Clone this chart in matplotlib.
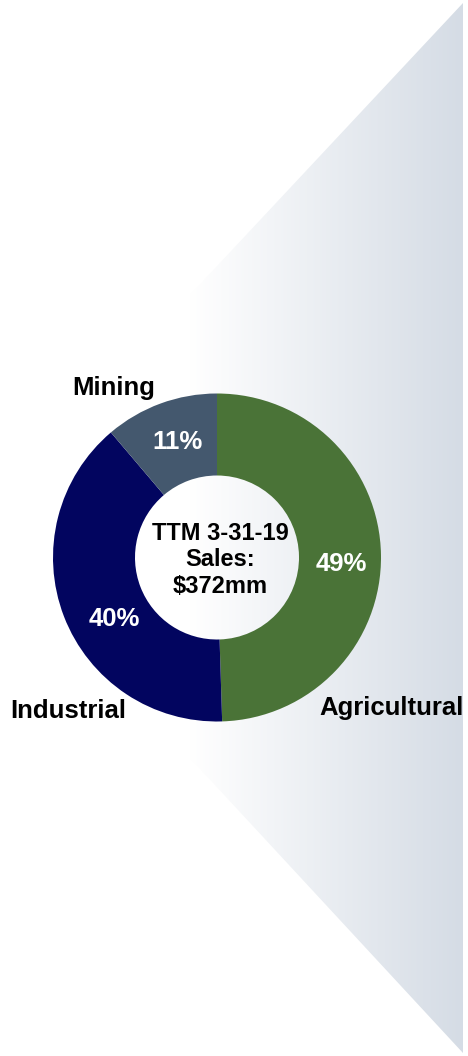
import numpy as np
import matplotlib.pyplot as plt
from matplotlib.path import Path
from matplotlib.patches import PathPatch

plt.rcParams["font.family"] = ["Liberation Sans", "DejaVu Sans"]

segments = ["Agricultural", "Industrial", "Mining"]
# slice sizes as drawn in the picture; printed labels are rounded
shares = [49.5, 39.3, 11.2]
share_labels = ["49%", "40%", "11%"]
colors = ["#4a7337", "#02055f", "#44586e"]
center_text = "TTM 3-31-19\nSales:\n$372mm"

W, H = 468, 1056
fig = plt.figure(figsize=(W / 100, H / 100), dpi=100)
ax = fig.add_axes([0, 0, 1, 1])


def py(y):
    # pixel row (from top) -> data y
    return H - y


# donut
cx, cy, r = 217, py(557.5), 164
ax.pie(
    shares,
    colors=colors,
    startangle=90,
    counterclock=False,
    center=(cx, cy),
    radius=r,
    wedgeprops={"width": r * 0.5, "edgecolor": "none", "zorder": 2},
    frame=True,
)
ax.set_xlim(0, W)
ax.set_ylim(0, H)
ax.axis("off")

# gradient arrow-shaped background
verts = [(463, py(3)), (189, py(296)), (189, py(757)), (463, py(1053)), (463, py(3))]
bg = PathPatch(Path(verts), facecolor="none", edgecolor="none")
ax.add_patch(bg)
grad = np.linspace(0, 1, 256).reshape(1, -1)
c0 = np.array([1.0, 1.0, 1.0])
c1 = np.array([0xd5, 0xdc, 0xe5]) / 255
img = c0 + (c1 - c0) * grad[..., None]
im = ax.imshow(img, extent=(189, 463, py(1053), py(3)), aspect="auto", zorder=0)
im.set_clip_path(bg)
ax.set_xlim(0, W)
ax.set_ylim(0, H)

# category labels
ax.text(114, py(395), segments[2], ha="center", va="baseline", fontsize=18.5, fontweight="bold")
ax.text(68, py(718), segments[1], ha="center", va="baseline", fontsize=18.5, fontweight="bold")
ax.text(392, py(715), segments[0], ha="center", va="baseline", fontsize=18.5, fontweight="bold")

# percentage labels
ax.text(341, py(571), share_labels[0], ha="center", va="baseline", fontsize=18.5,
        fontweight="bold", color="white")
ax.text(114, py(626), share_labels[1], ha="center", va="baseline", fontsize=18.5,
        fontweight="bold", color="white")
ax.text(177.5, py(449), share_labels[2], ha="center", va="baseline", fontsize=18.5,
        fontweight="bold", color="white")

# center text
ax.text(220, py(560), center_text, ha="center", va="center", fontsize=17,
        fontweight="bold", linespacing=1.2)

fig.savefig("out.png", dpi=100, facecolor="white")
